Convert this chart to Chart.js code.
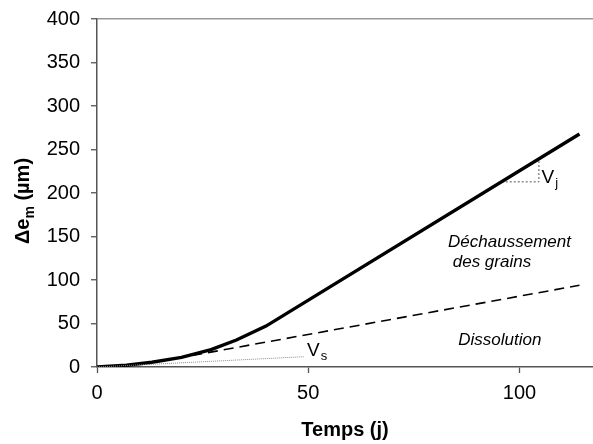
<!DOCTYPE html>
<html>
<head>
<meta charset="utf-8">
<script src="https://cdn.jsdelivr.net/npm/chart.js@4/dist/chart.umd.min.js"></script>
<style>
  html, body { margin: 0; padding: 0; background: #fff; }
  #wrap { width: 593px; height: 444px; }
</style>
</head>
<body>
<div id="wrap"><canvas id="graphe"></canvas></div>
<script>
/*************  données  ****************/
// courbe totale (trait épais)
const tempsTotal = [0, 7, 13, 20, 27, 33, 40, 114.2]
const deltaTotal = [0, 2, 5.5, 11, 20, 31, 47, 267.8]

// part dissolution (tirets)
const tempsDissol = [0, 7, 13, 20, 114.2]
const deltaDissol = [0, 2, 5.5, 11, 93.9]

// pente Vs (pointillé gris)
const tempsVs = [0, 48.9]
const deltaVs = [0, 11.8]

// triangle de pente Vj
const tempsVj = [95.8, 104.6, 104.6]
const deltaVj = [212.8, 212.8, 238]

const ticksX = [0, 50, 100]
const ticksY = [0, 50, 100, 150, 200, 250, 300, 350, 400]

// textes posés dans le graphe (coordonnées en données)
const textes = [
  { x: 83.1, y: 137.6, texte: 'Déchaussement' },
  { x: 84.2, y: 115, texte: 'des grains' },
  { x: 85.5, y: 25.3, texte: 'Dissolution' }
]
const pentes = [
  { x: 49.7, y: 12.6, texte: 'V', indice: 's' },
  { x: 105.2, y: 211.5, texte: 'V', indice: 'j' }
]

const police = '"Liberation Sans", Arial, sans-serif'

//*************  fonctions auxiliaires  ****************/
function points(xs, ys){
  return xs.map((x, i) => ({ x: x, y: ys[i] }))
}

// textes, indices et titre de l'axe y
const pluginTextes = {
  id: 'textes',
  afterDraw(chart){
    const ctx = chart.ctx
    const sx = chart.scales.x, sy = chart.scales.y
    ctx.save()
    ctx.fillStyle = '#000'
    ctx.textBaseline = 'alphabetic'
    ctx.textAlign = 'left'

    ctx.font = 'italic 17px ' + police
    textes.forEach(t => {
      ctx.fillText(t.texte, sx.getPixelForValue(t.x), sy.getPixelForValue(t.y))
    })

    pentes.forEach(p => {
      const px = sx.getPixelForValue(p.x), py = sy.getPixelForValue(p.y)
      ctx.font = '19px ' + police
      ctx.fillText(p.texte, px, py)
      const w = ctx.measureText(p.texte).width
      ctx.font = '13px ' + police
      ctx.fillText(p.indice, px + w + 1, py + 4)
    })

    // titre y : Δe_m (µm)
    const partA = 'Δe', partB = 'm', partC = ' (µm)'
    ctx.font = 'bold 20px ' + police
    const wA = ctx.measureText(partA).width
    const wC = ctx.measureText(partC).width
    ctx.font = 'bold 14px ' + police
    const wB = ctx.measureText(partB).width
    const total = wA + wB + wC
    ctx.translate(29, 201)
    ctx.rotate(-Math.PI / 2)
    let x0 = -total / 2
    ctx.font = 'bold 20px ' + police
    ctx.fillText(partA, x0, 0)
    ctx.font = 'bold 14px ' + police
    ctx.fillText(partB, x0 + wA, 5)
    ctx.font = 'bold 20px ' + police
    ctx.fillText(partC, x0 + wA + wB, 0)
    ctx.restore()
  }
}

//*************  graphique  ****************/
function creeGraphe(){
  const canvas = document.getElementById('graphe')

  new Chart(canvas, {
    type: 'scatter',
    data: {
      datasets: [
        {
          data: points(tempsVs, deltaVs),
          showLine: true,
          borderColor: '#8a8a8a',
          borderWidth: 1,
          borderDash: [1, 1],
          pointRadius: 0
        },
        {
          data: points(tempsDissol, deltaDissol),
          showLine: true,
          borderColor: '#000',
          borderWidth: 1.6,
          borderDash: [10, 6],
          pointRadius: 0
        },
        {
          data: points(tempsTotal, deltaTotal),
          showLine: true,
          borderColor: '#000',
          borderWidth: 3.4,
          pointRadius: 0
        },
        {
          data: points(tempsVj, deltaVj),
          showLine: true,
          borderColor: '#555',
          borderWidth: 1,
          borderDash: [2, 2],
          pointRadius: 0
        }
      ]
    },
    options: {
      responsive: true,
      maintainAspectRatio: false,
      animation: false,
      layout: { padding: { top: 19, right: 0, left: 0, bottom: 0 } },
      plugins: {
        legend: { display: false },
        tooltip: { enabled: false }
      },
      scales: {
        x: {
          type: 'linear',
          min: 0,
          max: 117.4,
          afterFit: scale => {
            scale.height = 77
            scale.paddingLeft = 0
            scale.paddingRight = 0
          },
          afterBuildTicks: scale => { scale.ticks = ticksX.map(v => ({ value: v })) },
          ticks: {
            color: '#000',
            padding: 8,
            font: { family: police, size: 20 }
          },
          grid: {
            drawOnChartArea: false,
            tickLength: 6,
            tickColor: '#555',
            tickWidth: 1.3
          },
          border: { color: '#555', width: 1.5 },
          title: {
            display: true,
            text: 'Temps (j)',
            color: '#000',
            padding: { top: 0, bottom: 2 },
            font: { family: police, size: 20, weight: 'bold' }
          }
        },
        y: {
          min: 0,
          max: 400,
          afterFit: scale => {
            scale.width = 97
            scale.paddingTop = 0
            scale.paddingBottom = 0
          },
          afterBuildTicks: scale => { scale.ticks = ticksY.map(v => ({ value: v })) },
          ticks: {
            color: '#000',
            padding: 11,
            font: { family: police, size: 20 }
          },
          grid: {
            color: c => (c.tick && c.tick.value === 400) ? '#999' : 'rgba(0,0,0,0)',
            lineWidth: 1.5,
            tickLength: 6,
            tickColor: '#555',
            tickWidth: 1.3
          },
          border: { color: '#555', width: 1.5 }
        }
      }
    },
    plugins: [pluginTextes]
  })
}

creeGraphe()
</script>
</body>
</html>
